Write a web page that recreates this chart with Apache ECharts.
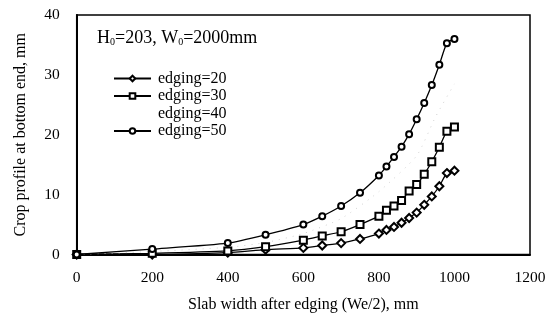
<!DOCTYPE html>
<html><head><meta charset="utf-8">
<script src="https://cdn.jsdelivr.net/npm/echarts@6/dist/echarts.min.js"></script>
<style>html,body{margin:0;padding:0;background:#fff}#c{width:558px;height:322px}</style>
</head><body><div id="c"></div>
<script>
const seriesNames = ['edging=20', 'edging=30', 'edging=40', 'edging=50'];
const x20 = [0, 200, 400, 500, 600, 650, 700, 750, 800, 820, 840, 860, 880, 900, 920, 940, 960, 980, 1000];
const y20 = [0, 0, 0.3, 0.8, 1.1, 1.5, 1.9, 2.6, 3.5, 4.1, 4.6, 5.3, 6.1, 7.0, 8.3, 9.7, 11.4, 13.6, 14.0];
const x30 = [0, 200, 400, 500, 600, 650, 700, 750, 800, 820, 840, 860, 880, 900, 920, 940, 960, 980, 1000];
const y30 = [0, 0.2, 0.6, 1.3, 2.4, 3.1, 3.8, 5.0, 6.4, 7.4, 8.1, 9.0, 10.6, 11.7, 13.4, 15.5, 17.9, 20.6, 21.3];
const x40 = [0, 200, 400, 500, 600, 700, 800, 900, 950, 1000];
const y40 = [0, 0.5, 1.2, 2.0, 3.5, 6.0, 10.5, 16.5, 23.0, 28.5];
const x50 = [0, 200, 400, 500, 600, 650, 700, 750, 800, 820, 840, 860, 880, 900, 920, 940, 960, 980, 1000];
const y50 = [0, 0.9, 1.9, 3.3, 5.0, 6.4, 8.1, 10.3, 13.2, 14.7, 16.3, 18.0, 20.1, 22.6, 25.3, 28.3, 31.7, 35.3, 36.0];
const xTicks = [0, 200, 400, 600, 800, 1000, 1200];
const yTicks = [0, 10, 20, 30, 40];

const pair = (xs, ys) => xs.map((v, i) => [v, ys[i]]);
const FONT = '"Liberation Serif", "DejaVu Serif", serif';
const chart = echarts.init(document.getElementById('c'), null, {renderer: 'canvas'});
const mk = (name, xs, ys, symbol, size, color, type, width) => ({
  name, type: 'line', data: pair(xs, ys), symbol, symbolSize: size,
  showSymbol: symbol !== 'none',
  lineStyle: {color, width, type}, itemStyle: {color, borderColor: color, borderWidth: 1.3},
  smooth: 0.2, animation: false, z: 3
});
chart.setOption({
  animation: false,
  backgroundColor: '#fff',
  title: {
    text: '{a|H}{s|0}{a|=203, W}{s|0}{a|=2000mm}',
    left: 92, top: 24,
    textStyle: {fontWeight: 'normal', rich: {
      a: {fontFamily: FONT, fontSize: 18, color: '#000', fontWeight: 'normal'},
      s: {fontFamily: FONT, fontSize: 10, color: '#000', fontWeight: 'normal', verticalAlign: 'bottom', padding: [7, 0, 0, 0]}
    }}
  },
  legend: {
    orient: 'vertical', left: 108, top: 65.5, itemWidth: 37, itemHeight: 7, itemGap: 1.5,
    data: [
      {name: seriesNames[0]},
      {name: seriesNames[1]},
      {name: seriesNames[2], itemStyle: {opacity: 0}, lineStyle: {opacity: 0}},
      {name: seriesNames[3]}
    ],
    textStyle: {fontFamily: FONT, fontSize: 16, color: '#000', padding: [0, 0, 0, 2]},
    inactiveColor: '#ccc'
  },
  grid: {left: 76.7, right: 28, top: 15, bottom: 67.5, show: true, borderColor: '#000', borderWidth: 1.5, containLabel: false},
  xAxis: {
    type: 'value', min: xTicks[0], max: xTicks[xTicks.length - 1], interval: 200,
    name: 'Slab width after edging (We/2), mm', nameLocation: 'middle', nameGap: 42,
    nameTextStyle: {fontFamily: FONT, fontSize: 16, color: '#000'},
    axisLine: {show: true, lineStyle: {color: '#000', width: 2}},
    axisTick: {show: false}, splitLine: {show: false},
    axisLabel: {fontFamily: FONT, fontSize: 15.5, color: '#000', margin: 15, formatter: v => String(v)}
  },
  yAxis: {
    type: 'value', min: yTicks[0], max: yTicks[yTicks.length - 1], interval: 10,
    name: 'Crop profile at bottom end, mm', nameLocation: 'middle', nameGap: 48,
    nameTextStyle: {fontFamily: FONT, fontSize: 16, color: '#000'},
    axisLine: {show: true, lineStyle: {color: '#000', width: 2}},
    axisTick: {show: false}, splitLine: {show: false},
    axisLabel: {fontFamily: FONT, fontSize: 15.5, color: '#000', margin: 17, formatter: v => String(v)}
  },
  series: [
    mk(seriesNames[0], x20, y20, 'emptyDiamond', 8, '#000', 'solid', 1.3),
    mk(seriesNames[1], x30, y30, 'emptyRect', 7, '#000', 'solid', 1.3),
    mk(seriesNames[2], x40, y40, 'none', 0, '#d0d0d0', [1, 6], 1),
    mk(seriesNames[3], x50, y50, 'emptyCircle', 6, '#000', 'solid', 1.3)
  ]
});
</script></body></html>
